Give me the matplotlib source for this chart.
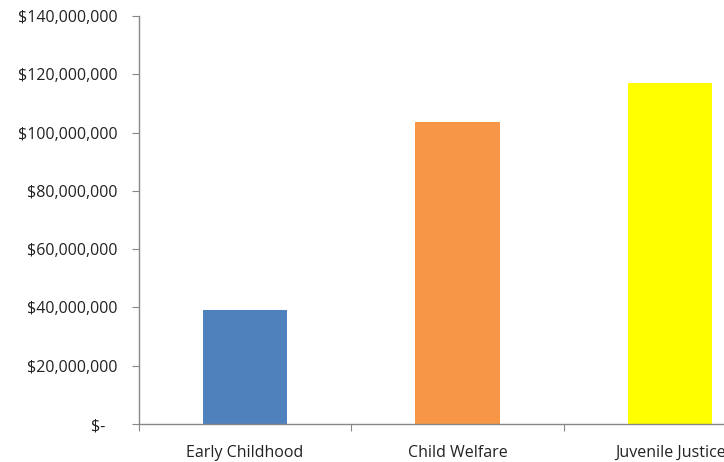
import matplotlib
matplotlib.use("Agg")
import matplotlib.pyplot as plt
from matplotlib.ticker import FuncFormatter

categories = ["Early Childhood", "Child Welfare", "Juvenile Justice"]
values = [39100000, 103600000, 117000000]
colors = ["#4F81BD", "#F79646", "#FFFF00"]
yticks = [0, 20000000, 40000000, 60000000, 80000000, 100000000, 120000000, 140000000]

plt.rcParams['font.family'] = ['Open Sans', 'DejaVu Sans']

fig = plt.figure(figsize=(7.24, 4.62), dpi=100)
ax = fig.add_axes([138.5 / 724, 38 / 462, 638 / 724, 408 / 462])

x = list(range(len(categories)))
ax.bar(x, values, width=0.395, color=colors, zorder=2)

ax.set_xlim(-0.5, len(categories) - 0.5)
ax.set_ylim(0, 140000000)
ax.set_yticks(yticks)

def fmt(v, pos):
    if v == 0:
        return "$-   "
    return "${:,.0f}".format(v)

ax.yaxis.set_major_formatter(FuncFormatter(fmt))

ax.set_xticks([i - 0.5 for i in range(len(categories) + 1)])
ax.set_xticklabels([])
ax.set_xticks(x, minor=True)
ax.set_xticklabels(categories, minor=True)
ax.tick_params(axis='x', which='minor', length=0, pad=15, labelsize=11.5, labelcolor='#222222')
ax.tick_params(axis='x', which='major', length=5, color='#888888', direction='out')
ax.tick_params(axis='y', length=5, color='#888888', direction='out', pad=10, labelsize=11.5, labelcolor='#222222')

for s in ['top', 'right']:
    ax.spines[s].set_visible(False)
for s in ['left', 'bottom']:
    ax.spines[s].set_color('#888888')
    ax.spines[s].set_linewidth(1)

fig.savefig("out.png", dpi=100)
